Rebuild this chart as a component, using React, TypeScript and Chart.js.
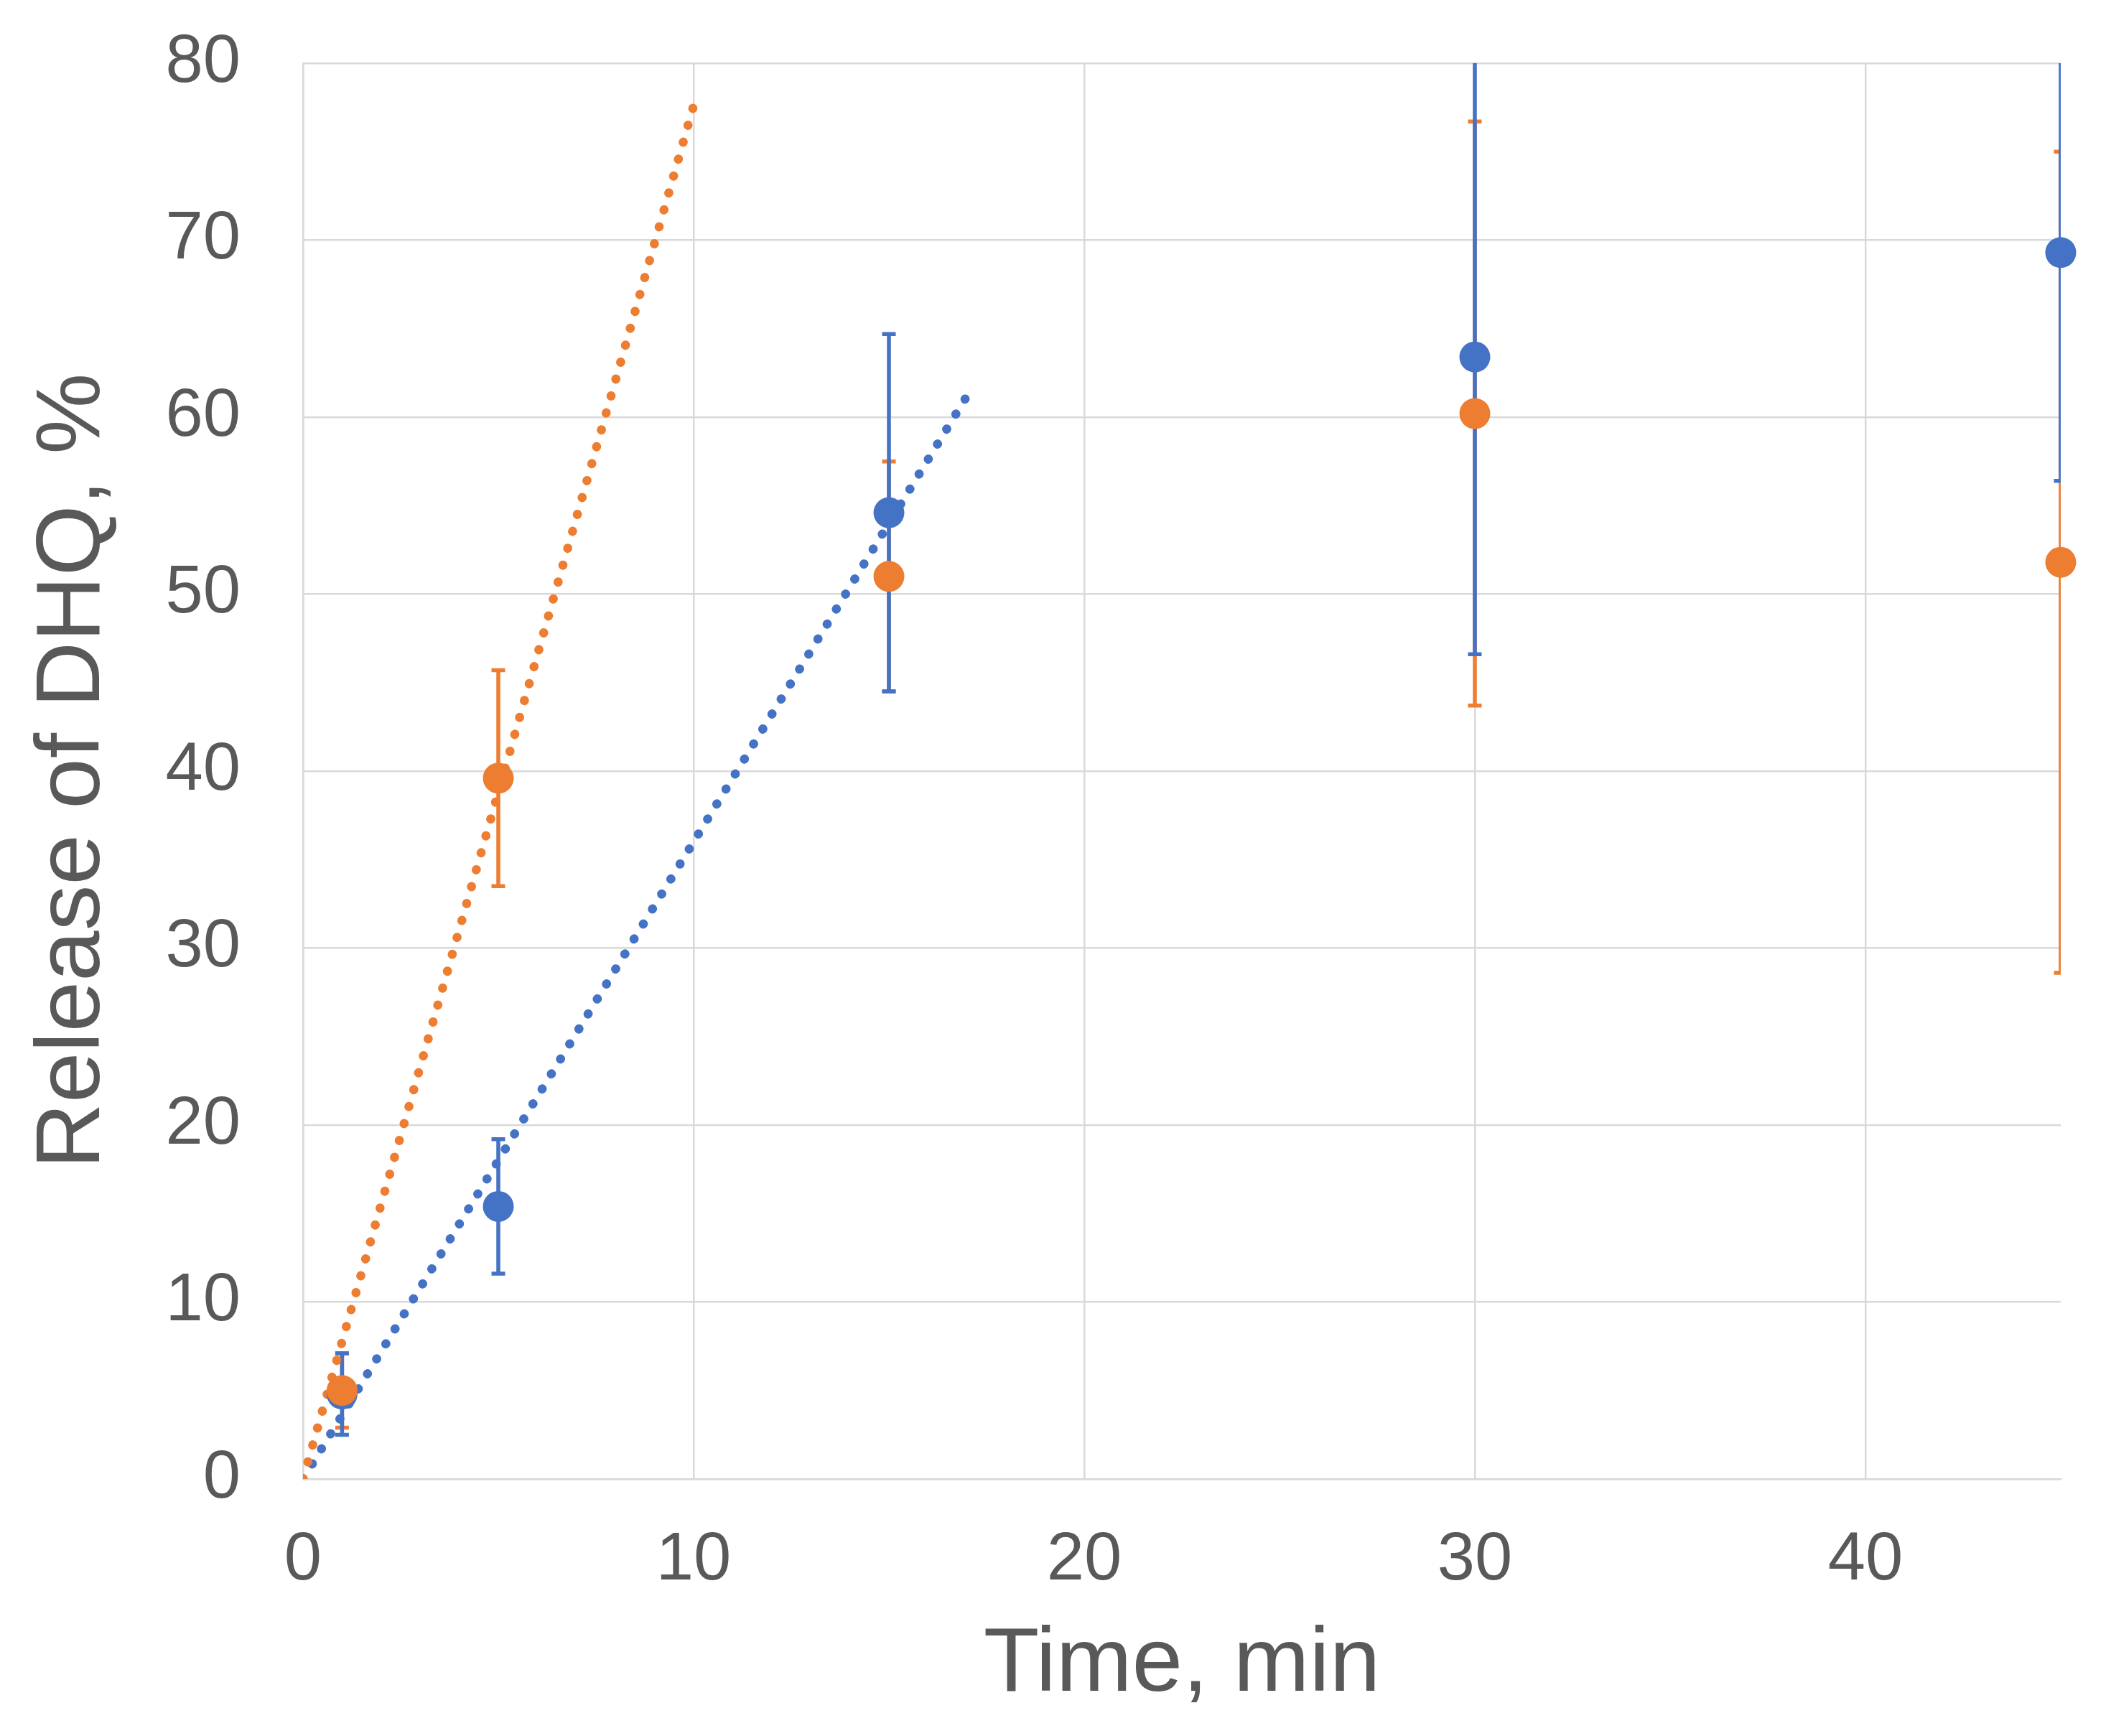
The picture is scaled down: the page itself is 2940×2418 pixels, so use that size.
import React, { useEffect, useRef } from 'react';
import { Chart, registerables } from 'chart.js';

Chart.register(...registerables);

// sampling times, min
const times = [1, 5, 15, 30, 45];

// release of DHQ, % (mean and +/- error)
const blueRelease = [4.8, 15.4, 54.6, 63.4, 69.3];
const blueError = [2.3, 3.8, 10.1, 16.8, 12.9];
const orangeRelease = [5.0, 39.6, 51.0, 60.2, 51.8];
const orangeError = [2.1, 6.1, 6.5, 16.5, 23.2];

// dotted trend lines, end points
const blueTrendX = [0, 17];
const blueTrendY = [0, 61.2];
const orangeTrendX = [0, 10];
const orangeTrendY = [0, 77.6];

const BLUE = '#4472C4';
const ORANGE = '#ED7D31';
const TEXT = '#595959';
const GRID = '#D9D9D9';
const FONT = '"Liberation Sans", Arial, sans-serif';

const toPoints = (xs: number[], ys: number[]) => xs.map((x, i) => ({ x, y: ys[i] }));

// draws vertical error bars with caps, clipped to the plot area
const errorBarPlugin = {
    id: 'errorBars',
    beforeDatasetsDraw(chart: any) {
        const { ctx, chartArea, scales } = chart;
        ctx.save();
        ctx.beginPath();
        ctx.rect(chartArea.left, chartArea.top, chartArea.right - chartArea.left, chartArea.bottom - chartArea.top);
        ctx.clip();
        // orange first, blue over it
        const sets = chart.data.datasets;
        for (let d = 0; d < sets.length; d++) {
            const ds = sets[d];
            if (!ds.errors) continue;
            ctx.strokeStyle = ds.backgroundColor;
            ctx.lineWidth = 5.5;
            ctx.lineCap = 'butt';
            ds.data.forEach((p: any, i: number) => {
                const e = ds.errors[i];
                const x = scales.x.getPixelForValue(p.x);
                const yTop = scales.y.getPixelForValue(p.y + e);
                const yBot = scales.y.getPixelForValue(p.y - e);
                ctx.beginPath();
                ctx.moveTo(x, yTop);
                ctx.lineTo(x, yBot);
                ctx.moveTo(x - 9.5, yTop);
                ctx.lineTo(x + 9.5, yTop);
                ctx.moveTo(x - 9.5, yBot);
                ctx.lineTo(x + 9.5, yBot);
                ctx.stroke();
            });
        }
        ctx.restore();
    },
};

const App: React.FC = () => {
    const canvasRef = useRef<HTMLCanvasElement | null>(null);
    const chartRef = useRef<Chart | null>(null);

    useEffect(() => {
        const canvas = canvasRef.current;
        if (!canvas) return;

        const existing = Chart.getChart(canvas);
        if (existing) {
            try { existing.destroy(); } catch (e) {}
        }

        chartRef.current = new Chart(canvas, {
            type: 'scatter',
            data: {
                datasets: [
                    {
                        label: 'orange',
                        data: toPoints(times, orangeRelease),
                        errors: orangeError,
                        backgroundColor: ORANGE,
                        borderColor: ORANGE,
                        pointRadius: 21.5,
                        pointBorderWidth: 0,
                        clip: false,
                        order: 0,
                    } as any,
                    {
                        label: 'blue',
                        data: toPoints(times, blueRelease),
                        errors: blueError,
                        backgroundColor: BLUE,
                        borderColor: BLUE,
                        pointRadius: 21.5,
                        pointBorderWidth: 0,
                        clip: false,
                        order: 1,
                    } as any,
                    {
                        label: 'orange trend',
                        data: toPoints(orangeTrendX, orangeTrendY),
                        showLine: true,
                        borderColor: ORANGE,
                        borderWidth: 12.5,
                        borderDash: [0.5, 24],
                        borderCapStyle: 'round',
                        pointRadius: 0,
                        order: 2,
                    },
                    {
                        label: 'blue trend',
                        data: toPoints(blueTrendX, blueTrendY),
                        showLine: true,
                        borderColor: BLUE,
                        borderWidth: 12.5,
                        borderDash: [0.5, 24],
                        borderCapStyle: 'round',
                        pointRadius: 0,
                        order: 3,
                    },
                ],
            },
            options: {
                animation: false,
                responsive: false,
                devicePixelRatio: 1,
                layout: { padding: { top: 88, right: 70, bottom: 0, left: 0 } },
                plugins: {
                    legend: { display: false },
                    tooltip: { enabled: false },
                },
                scales: {
                    x: {
                        type: 'linear',
                        min: 0,
                        max: 45,
                        afterFit: (scale: any) => {
                            scale.height = 358;
                            scale.paddingLeft = 0;
                            scale.paddingRight = 0;
                        },
                        ticks: {
                            stepSize: 10,
                            includeBounds: false,
                            padding: 58,
                            color: TEXT,
                            font: { family: FONT, size: 94, lineHeight: 1.2 },
                        },
                        grid: { color: GRID, lineWidth: 2.5, drawTicks: false },
                        border: { color: GRID, width: 2.5 },
                        title: {
                            display: true,
                            text: 'Time, min',
                            color: TEXT,
                            font: { family: FONT, size: 127, lineHeight: 1.2 },
                            padding: { top: 0, bottom: 22 },
                        },
                    },
                    y: {
                        type: 'linear',
                        min: 0,
                        max: 80,
                        afterFit: (scale: any) => {
                            scale.width = 422;
                            scale.paddingTop = 0;
                            scale.paddingBottom = 0;
                        },
                        ticks: {
                            stepSize: 10,
                            padding: 87,
                            color: TEXT,
                            font: { family: FONT, size: 94, lineHeight: 1.2 },
                        },
                        grid: { color: GRID, lineWidth: 2.5, drawTicks: false },
                        border: { color: GRID, width: 2.5 },
                        title: {
                            display: true,
                            text: 'Release of DHQ, %',
                            color: TEXT,
                            font: { family: FONT, size: 127, lineHeight: 1.2 },
                            padding: { top: 27, bottom: 0 },
                        },
                    },
                },
            },
            plugins: [errorBarPlugin],
        } as any);

        return () => {
            if (chartRef.current) {
                try { chartRef.current.destroy(); } catch (e) {}
                chartRef.current = null;
            }
        };
    }, []);

    return (
        <div style={{ position: 'absolute', left: 0, top: 0, width: 2940, height: 2418, background: '#fff' }}>
            <canvas ref={canvasRef} width={2940} height={2418} style={{ width: 2940, height: 2418 }} />
        </div>
    );
};

export default App;
